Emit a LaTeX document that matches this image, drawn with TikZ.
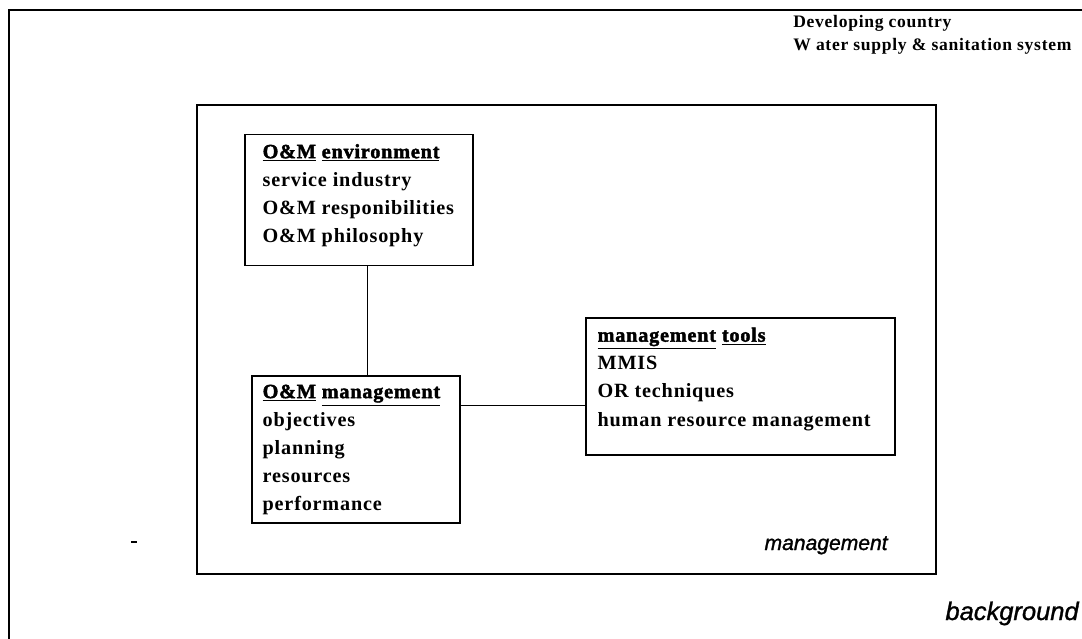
\documentclass[tikz,border=0pt]{standalone}
\usepackage{fontspec}
\setmainfont{Liberation Serif}
\newfontfamily\typefont[LetterSpace=4]{Liberation Serif}
\newfontfamily\headfont[LetterSpace=4, FakeBold=2]{Liberation Serif}
\newfontfamily\tagfont[FakeBold=1.2]{Liberation Sans}
\usetikzlibrary{positioning}

\tikzset{
  frame/.style={draw, line width=1.1pt},
  box/.style={draw, line width=0.8pt, inner sep=0pt},
  boxtext/.style={align=left, inner sep=0pt,
    font=\typefont\bfseries\fontsize{11.5}{16}\selectfont},
  toptext/.style={inner sep=0pt, font=\typefont\bfseries\fontsize{10}{13}\selectfont},
  link/.style={line width=0.5pt},
  tag/.style={inner sep=0pt, font=\tagfont\itshape\fontsize{12}{14}\selectfont}
}
\newcommand{\headword}[1]{\underline{{\headfont\bfseries #1}}}

\begin{document}
\begin{tikzpicture}[x=0.02cm, y=-0.02cm]
  \useasboundingbox (0,0) rectangle (1082,639);
  % frames
  \draw[frame] (9,639) -- (9,10) -- (1082,10);
  \draw[frame] (197,105) rectangle (936,574);
  \draw[line width=0.8pt] (131,542) -- (137,542);
  % title
  \node[toptext, anchor=base west] (dev) at (793,28) {Developing country};
  \node[toptext, anchor=base west] (wss) at ([yshift=-0.46cm]dev.base west)
     {W ater supply \& sanitation system};
  % boxes
  \node[box, minimum width=4.56cm, minimum height=2.62cm] (env) at (359,200) {};
  \node[box, minimum width=4.16cm, minimum height=2.94cm] (mgmt) at (356,449.5) {};
  \node[box, minimum width=6.18cm, minimum height=2.74cm] (tools) at (740.5,386.5) {};
  \node[boxtext, below right=0.2cm and 0.36cm of env.north west] (envtext)
     {\headword{O\&M}~\headword{environment}\\service industry\\
      O\&M responibilities\\O\&M philosophy};
  \node[boxtext, below right=0.18cm and 0.22cm of mgmt.north west] (mgmttext)
     {\headword{O\&M}~\headword{management}\\objectives\\planning\\
      resources\\performance};
  \node[boxtext, below right=0.2cm and 0.24cm of tools.north west] (toolstext)
     {\headword{management}~\headword{tools}\\MMIS\\OR techniques\\
      human resource management};
  % links
  \coordinate (vx) at (367,0);
  \coordinate (hy) at (0,405);
  \draw[link] (env.south -| vx) -- (mgmt.north -| vx);
  \draw[link] (mgmt.east |- hy) -- (tools.west |- hy);
  % tags
  \node[tag, anchor=base east] (mgmttag) at (888,550) {management};
  \node[tag, anchor=base east, font=\tagfont\itshape\fontsize{14.5}{16}\selectfont]
     (bgtag) at (1079,620) {background};
\end{tikzpicture}
\end{document}
